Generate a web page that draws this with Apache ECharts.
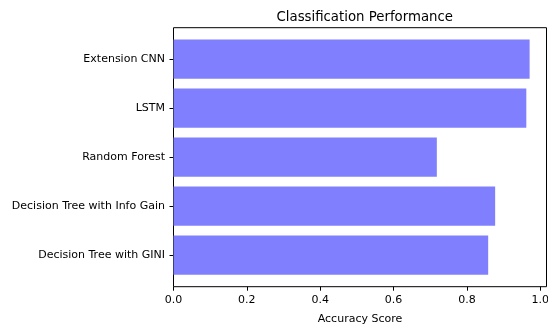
<!DOCTYPE html>
<html>
<head>
<meta charset="utf-8">
<script src="https://cdn.jsdelivr.net/npm/echarts@6/dist/echarts.min.js"></script>
<style>
  html, body { margin: 0; padding: 0; background: #fff; }
  #chart { width: 548px; height: 327px; }
</style>
</head>
<body>
<div id="chart"></div>
<script>
// bottom to top, like matplotlib barh
var models = ['Decision Tree with GINI', 'Decision Tree with Info Gain', 'Random Forest', 'LSTM', 'Extension CNN'];
var accuracy = [0.858, 0.877, 0.718, 0.962, 0.971];
var xTicks = [0, 0.2, 0.4, 0.6, 0.8, 1.0];

var font = 'DejaVu Sans';
var chart = echarts.init(document.getElementById('chart'), null, { renderer: 'canvas' });

var xMax = 1.017;
var plotLeft = 173.5, plotRight = 1.5;

chart.setOption({
    animation: false,
    title: {
        text: 'Classification Performance',
        left: 271.5,
        top: 6,
        textStyle: { fontFamily: font, fontSize: 13.3, fontWeight: 'normal', color: '#000' }
    },
    grid: [
        // outer frame (spines) + x axis
        { left: plotLeft, right: plotRight, top: 27.7, bottom: 327 - 286.7, outerBoundsMode: 'none', containLabel: false,
          show: true, borderColor: '#000', borderWidth: 1, backgroundColor: 'transparent' },
        // bars area (matplotlib y margins)
        { left: plotLeft, right: plotRight, top: 34.6, bottom: 327 - 279.6, outerBoundsMode: 'none', containLabel: false }
    ],
    xAxis: [{
        gridIndex: 0,
        type: 'value',
        min: 0,
        max: xMax,
        name: 'Accuracy Score',
        nameLocation: 'middle',
        nameGap: 26.5,
        nameTextStyle: { fontFamily: font, fontSize: 11, color: '#000' },
        axisLine: { show: false },
        axisTick: { show: true, customValues: xTicks, length: 4, lineStyle: { color: '#000' } },
        axisLabel: {
            customValues: xTicks,
            margin: 8,
            fontFamily: font, fontSize: 11, color: '#000',
            formatter: function (v) { return v.toFixed(1); }
        },
        splitLine: { show: false }
    }, {
        gridIndex: 1,
        type: 'value',
        min: 0,
        max: xMax,
        show: false
    }],
    yAxis: [{
        gridIndex: 0,
        type: 'value',
        show: false
    }, {
        gridIndex: 1,
        type: 'category',
        data: models,
        axisLine: { show: false },
        axisTick: { show: true, alignWithLabel: true, length: 4, lineStyle: { color: '#000' } },
        axisLabel: { margin: 8.5, fontFamily: font, fontSize: 11, color: '#000' },
        splitLine: { show: false }
    }],
    series: [{
        type: 'bar',
        xAxisIndex: 1,
        yAxisIndex: 1,
        data: accuracy,
        barWidth: '80%',
        itemStyle: { color: '#8080ff' }
    }]
});
</script>
</body>
</html>
